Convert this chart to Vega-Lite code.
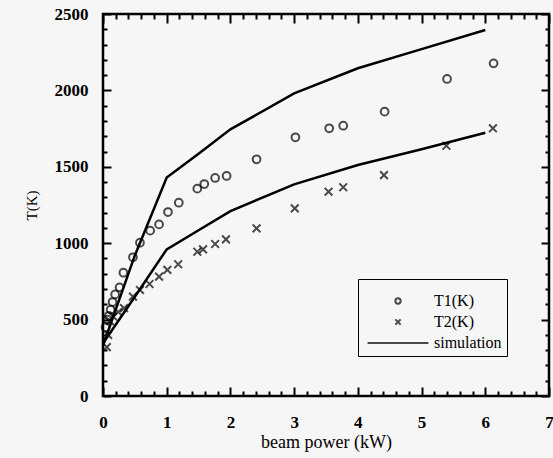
{
  "$schema": "https://vega.github.io/schema/vega-lite/v6.json",
  "width": 446,
  "height": 382,
  "autosize": {"type": "none"},
  "padding": {"left": 103, "top": 14, "right": 4, "bottom": 62},
  "background": "#f6f6f6",
  "config": {
    "view": {"stroke": "black", "strokeWidth": 2.5},
    "font": "Liberation Serif",
    "axis": {
      "grid": true,
      "gridColor": "black",
      "gridOpacity": 1,
      "gridWidth": 2,
      "domain": false,
      "ticks": false,
      "tickSize": 0,
      "labelFont": "Liberation Serif",
      "labelFontWeight": "bold",
      "labelFontSize": 17,
      "labelColor": "black",
      "titleFont": "Liberation Serif",
      "titleFontWeight": "normal",
      "titleColor": "black",
      "labelOverlap": false,
      "labelFlush": false
    }
  },
  "datasets": {
    "pts": [
      {"series": "T1(K)", "power": 0.04, "T": 450},
      {"series": "T1(K)", "power": 0.07, "T": 500},
      {"series": "T1(K)", "power": 0.09, "T": 525},
      {"series": "T1(K)", "power": 0.12, "T": 565},
      {"series": "T1(K)", "power": 0.15, "T": 615},
      {"series": "T1(K)", "power": 0.19, "T": 665},
      {"series": "T1(K)", "power": 0.26, "T": 711},
      {"series": "T1(K)", "power": 0.32, "T": 807},
      {"series": "T1(K)", "power": 0.47, "T": 908},
      {"series": "T1(K)", "power": 0.58, "T": 1003},
      {"series": "T1(K)", "power": 0.74, "T": 1082},
      {"series": "T1(K)", "power": 0.88, "T": 1123},
      {"series": "T1(K)", "power": 1.02, "T": 1204},
      {"series": "T1(K)", "power": 1.19, "T": 1265},
      {"series": "T1(K)", "power": 1.48, "T": 1357},
      {"series": "T1(K)", "power": 1.59, "T": 1387},
      {"series": "T1(K)", "power": 1.76, "T": 1427},
      {"series": "T1(K)", "power": 1.94, "T": 1440},
      {"series": "T1(K)", "power": 2.41, "T": 1549},
      {"series": "T1(K)", "power": 3.02, "T": 1693},
      {"series": "T1(K)", "power": 3.55, "T": 1752},
      {"series": "T1(K)", "power": 3.77, "T": 1769},
      {"series": "T1(K)", "power": 4.42, "T": 1861},
      {"series": "T1(K)", "power": 5.40, "T": 2075},
      {"series": "T1(K)", "power": 6.13, "T": 2177},
      {"series": "T2(K)", "power": 0.06, "T": 320},
      {"series": "T2(K)", "power": 0.08, "T": 400},
      {"series": "T2(K)", "power": 0.11, "T": 490},
      {"series": "T2(K)", "power": 0.16, "T": 520},
      {"series": "T2(K)", "power": 0.24, "T": 550},
      {"series": "T2(K)", "power": 0.33, "T": 575},
      {"series": "T2(K)", "power": 0.47, "T": 650},
      {"series": "T2(K)", "power": 0.58, "T": 694},
      {"series": "T2(K)", "power": 0.73, "T": 733},
      {"series": "T2(K)", "power": 0.88, "T": 781},
      {"series": "T2(K)", "power": 1.01, "T": 825},
      {"series": "T2(K)", "power": 1.18, "T": 862},
      {"series": "T2(K)", "power": 1.48, "T": 944},
      {"series": "T2(K)", "power": 1.57, "T": 960},
      {"series": "T2(K)", "power": 1.76, "T": 995},
      {"series": "T2(K)", "power": 1.93, "T": 1025},
      {"series": "T2(K)", "power": 2.41, "T": 1097},
      {"series": "T2(K)", "power": 3.01, "T": 1228},
      {"series": "T2(K)", "power": 3.54, "T": 1337},
      {"series": "T2(K)", "power": 3.77, "T": 1366},
      {"series": "T2(K)", "power": 4.41, "T": 1446},
      {"series": "T2(K)", "power": 5.39, "T": 1638},
      {"series": "T2(K)", "power": 6.12, "T": 1752}
    ],
    "sim": [
      {"curve": "upper", "power": 0, "T": 330},
      {"curve": "upper", "power": 0.5, "T": 920},
      {"curve": "upper", "power": 1.0, "T": 1430},
      {"curve": "upper", "power": 1.5, "T": 1585},
      {"curve": "upper", "power": 2.0, "T": 1745},
      {"curve": "upper", "power": 3.0, "T": 1980},
      {"curve": "upper", "power": 4.0, "T": 2145},
      {"curve": "upper", "power": 5.0, "T": 2270},
      {"curve": "upper", "power": 6.0, "T": 2395},
      {"curve": "lower", "power": 0, "T": 345},
      {"curve": "lower", "power": 0.5, "T": 650},
      {"curve": "lower", "power": 1.0, "T": 960},
      {"curve": "lower", "power": 1.5, "T": 1085},
      {"curve": "lower", "power": 2.0, "T": 1210},
      {"curve": "lower", "power": 3.0, "T": 1385},
      {"curve": "lower", "power": 4.0, "T": 1512},
      {"curve": "lower", "power": 5.0, "T": 1615},
      {"curve": "lower", "power": 6.0, "T": 1723}
    ]
  },
  "layer": [
    {
      "data": {"name": "sim"},
      "mark": {"type": "line", "color": "black", "strokeWidth": 2.5},
      "encoding": {
        "x": {
          "field": "power", "type": "quantitative",
          "scale": {"domain": [0, 7], "nice": false, "zero": false},
          "axis": {
            "orient": "bottom",
            "title": "beam power (kW)",
            "titleFontSize": 18,
            "titlePadding": 3,
            "tickCount": 200,
            "values": [0, 0.2, 0.4, 0.6, 0.8, 1, 1.2, 1.4, 1.6, 1.8, 2, 2.2, 2.4, 2.6, 2.8, 3, 3.2, 3.4, 3.6, 3.8, 4, 4.2, 4.4, 4.6, 4.8, 5, 5.2, 5.4, 5.6, 5.8, 6, 6.2, 6.4, 6.6, 6.8, 7],
            "gridDash": {"condition": {"test": "datum.value % 1 === 0", "value": [9, 364, 9]}, "value": [5, 372, 5]},
            "labelPadding": 18,
            "labelExpr": "datum.value % 1 === 0 ? '' + datum.value : ''"
          }
        },
        "y": {
          "field": "T", "type": "quantitative",
          "scale": {"domain": [0, 2500], "nice": false},
          "axis": {
            "orient": "left",
            "title": "T(K)",
            "titleFontSize": 15,
            "titlePadding": 15,
            "tickCount": 200,
            "values": [0, 100, 200, 300, 400, 500, 600, 700, 800, 900, 1000, 1100, 1200, 1300, 1400, 1500, 1600, 1700, 1800, 1900, 2000, 2100, 2200, 2300, 2400, 2500],
            "gridDash": {"condition": {"test": "datum.value % 500 === 0", "value": [8, 430, 8]}, "value": [4, 438, 4]},
            "labelPadding": 15,
            "labelExpr": "datum.value % 500 === 0 ? '' + datum.value : ''"
          }
        },
        "detail": {"field": "curve", "type": "nominal"}
      }
    },
    {
      "data": {"name": "pts"},
      "mark": {"type": "point", "filled": false, "color": "black", "strokeWidth": 2, "size": 60},
      "encoding": {
        "x": {"field": "power", "type": "quantitative"},
        "y": {"field": "T", "type": "quantitative"},
        "shape": {
          "field": "series", "type": "nominal",
          "scale": {
            "domain": ["T1(K)", "T2(K)", "simulation"],
            "range": ["circle", "M-1,-1L1,1M-1,1L1,-1", "M-11.5,0H11.5"]
          },
          "legend": {
            "title": " ",
            "titleFontSize": 6,
            "titlePadding": 3,
            "orient": "none",
            "legendX": 255,
            "legendY": 265,
            "strokeColor": "black",
            "fillColor": "#f6f6f6",
            "padding": 5,
            "symbolOffset": 27,
            "symbolSize": 28,
            "symbolStrokeWidth": 2,
            "symbolStrokeColor": "black",
            "symbolFillColor": "transparent",
            "labelFont": "Liberation Serif",
            "labelFontSize": 16,
            "labelColor": "black",
            "labelOffset": 28,
            "rowPadding": 5,
            "encode": {"legend": {"update": {"strokeWidth": {"value": 1.5}}}}
          }
        }
      }
    }
  ]
}
